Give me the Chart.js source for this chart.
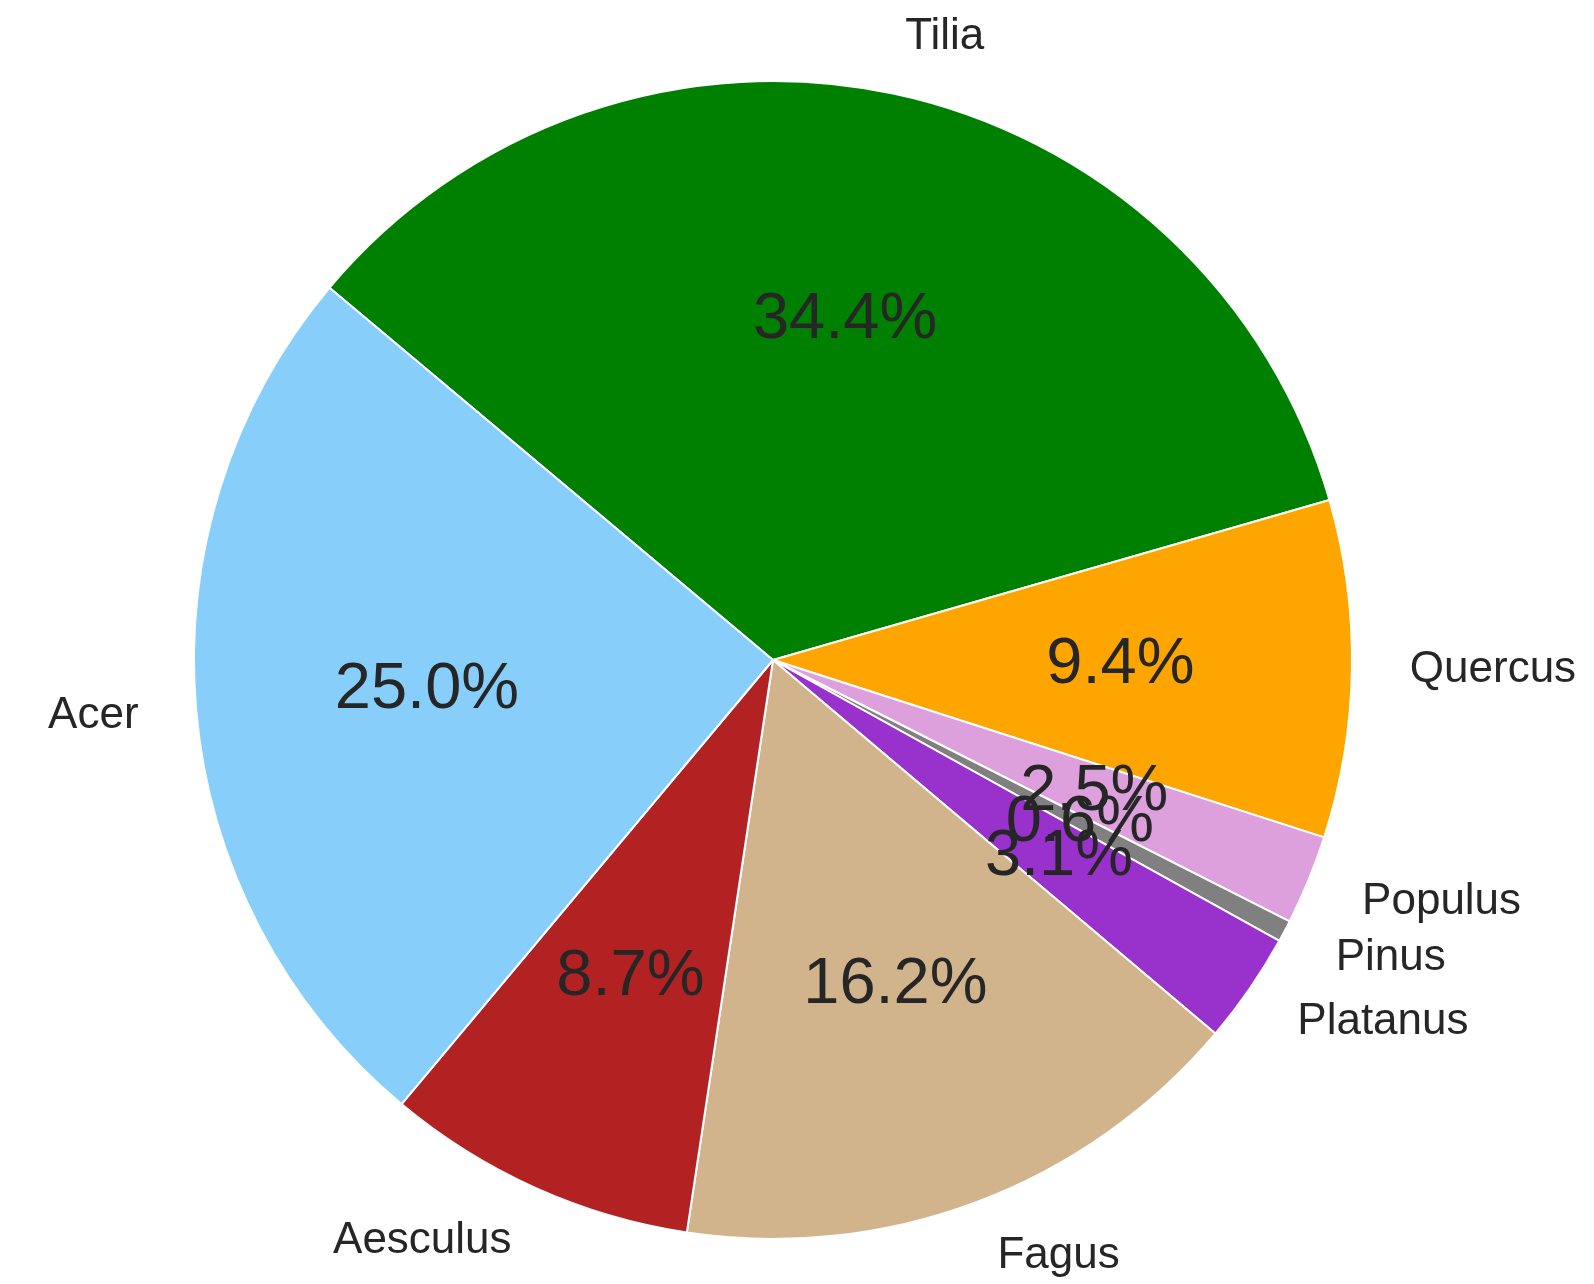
<!DOCTYPE html>
<html>
<head>
<meta charset="utf-8">
<title>Tree genera</title>
<script src="https://cdn.jsdelivr.net/npm/chart.js@4"></script>
<style>
  html, body { margin: 0; padding: 0; background: #fff; }
  #wrap { width: 1594px; height: 1284px; position: relative; }
</style>
</head>
<body>
<div id="wrap"><canvas id="treePie"></canvas></div>
<script>
// genus shares in percent, clockwise from the top slice
const genera = ['Tilia', 'Quercus', 'Populus', 'Pinus', 'Platanus', 'Fagus', 'Aesculus', 'Acer'];
const shares = [34.4, 9.4, 2.5, 0.6, 3.1, 16.2, 8.7, 25.0];
const sliceColors = ['#008000', '#FFA500', '#DDA0DD', '#808080', '#9932CC', '#D2B48C', '#B22222', '#87CEFA'];

// names outside the pie, percentages inside
const pieText = {
    id: 'pieText',
    afterDatasetsDraw(chart) {
        const ctx = chart.ctx;
        const arcs = chart.getDatasetMeta(0).data;
        ctx.save();
        ctx.fillStyle = '#262626';
        ctx.textBaseline = 'middle';
        arcs.forEach(function (arc, i) {
            const mid = (arc.startAngle + arc.endAngle) / 2;
            const r = arc.outerRadius;
            const cos = Math.cos(mid), sin = Math.sin(mid);
            // name at 1.1 r
            ctx.font = '44px "Liberation Sans", Arial, sans-serif';
            ctx.textAlign = cos >= 0 ? 'left' : 'right';
            ctx.fillText(genera[i], arc.x + cos * r * 1.1, arc.y + sin * r * 1.1);
            // percentage at 0.6 r
            ctx.font = '65px "Liberation Sans", Arial, sans-serif';
            ctx.textAlign = 'center';
            ctx.fillText(shares[i].toFixed(1) + '%', arc.x + cos * r * 0.6, arc.y + sin * r * 0.6);
        });
        ctx.restore();
    }
};

new Chart(document.getElementById('treePie'), {
    type: 'pie',
    data: {
        labels: genera,
        datasets: [{
            data: shares,
            backgroundColor: sliceColors,
            borderColor: '#ffffff',
            borderWidth: 2
        }]
    },
    options: {
        responsive: true,
        maintainAspectRatio: false,
        animation: false,
        rotation: -50,
        layout: { padding: { top: 80, bottom: 44, left: 190, right: 238 } },
        plugins: {
            legend: { display: false },
            tooltip: { enabled: false }
        }
    },
    plugins: [pieText]
});
</script>
</body>
</html>
